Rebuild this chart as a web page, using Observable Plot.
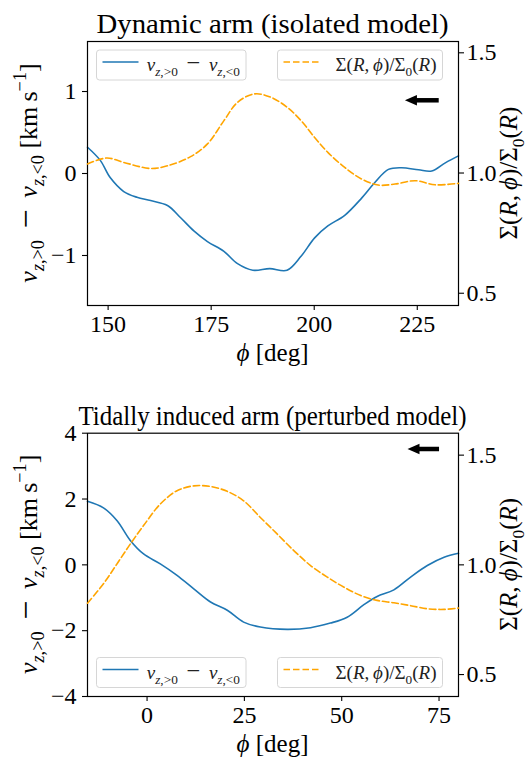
<!DOCTYPE html>
<html>
<head>
<meta charset="utf-8">
<script src="https://cdn.jsdelivr.net/npm/d3@7"></script>
<script src="https://cdn.jsdelivr.net/npm/@observablehq/plot@0.6"></script>
<style>
  html, body { margin: 0; padding: 0; background: #fff; }
  .panel { position: relative; width: 530px; height: 380px; }
  .panel svg { position: absolute; left: 0; top: 0; }
  .panel svg text { font-family: "Liberation Serif", "DejaVu Serif", serif; }
</style>
</head>
<body>
<div id="root"></div>
<script>
// ---------- data ----------
const titles = ["Dynamic arm (isolated model)", "Tidally induced arm (perturbed model)"];

// Top panel: v_{z,>0} - v_{z,<0}
const topPhiV = [145, 148.1, 150.5, 153.8, 157.0, 160.3, 164.4, 167.6, 170.8, 174.1, 178.1, 181.4, 185.1, 189.2, 193.4, 196.8, 200.1, 203.3, 207.4, 211.5, 214.7, 218.0, 221.2, 225.3, 228.5, 231.8, 235];
const topV    = [0.32, 0.16, -0.05, -0.22, -0.29, -0.33, -0.39, -0.54, -0.70, -0.83, -0.95, -1.10, -1.18, -1.16, -1.18, -1.01, -0.785, -0.64, -0.51, -0.30, -0.11, 0.05, 0.07, 0.045, 0.03, 0.13, 0.215];
// Top panel: Sigma / Sigma0
const topPhiS = [145, 149.7, 153.8, 160.3, 164.4, 170.0, 174.1, 178.1, 181.4, 185.5, 189.5, 193.6, 196.8, 200.1, 203.3, 207.4, 211.5, 215.5, 219.6, 224.5, 229.3, 235];
const topS    = [1.0375, 1.0625, 1.044, 1.019, 1.030, 1.068, 1.121, 1.218, 1.294, 1.329, 1.315, 1.271, 1.218, 1.148, 1.086, 1.023, 0.975, 0.950, 0.954, 0.968, 0.951, 0.957];

// Bottom panel
const botPhiV = [-15.3, -11.2, -7.7, -4.3, -0.9, 3.4, 7.7, 12.0, 16.3, 20.6, 24.8, 29.1, 36.0, 42.0, 47.1, 51.4, 55.7, 59.1, 63.4, 67.7, 72.0, 76.3, 80];
const botV    = [1.93, 1.73, 1.34, 0.74, 0.33, 0.03, -0.32, -0.73, -1.13, -1.38, -1.74, -1.89, -1.96, -1.91, -1.77, -1.59, -1.21, -0.96, -0.76, -0.37, -0.02, 0.23, 0.35];
const botPhiS = [-15.3, -11.2, -7.7, -4.3, -0.9, 3.4, 7.7, 12.0, 16.3, 20.6, 24.8, 29.1, 33.4, 37.7, 42.0, 46.3, 50.6, 54.9, 59.1, 63.4, 67.7, 72.0, 76.3, 80];
const botS    = [0.825, 0.914, 1.005, 1.095, 1.179, 1.277, 1.338, 1.36, 1.357, 1.335, 1.292, 1.216, 1.141, 1.065, 0.997, 0.944, 0.898, 0.86, 0.838, 0.827, 0.814, 0.80, 0.797, 0.803];

// axes
const topXDomain = [145, 235], topYDomain = [-1.61, 1.61], topSDomain = [0.449, 1.547];
const botXDomain = [-15.3, 80], botYDomain = [-4, 4], botSDomain = [0.4, 1.6];
const topXTicks = [150, 175, 200, 225], topYTicks = [-1, 0, 1];
const botXTicks = [0, 25, 50, 75], botYTicks = [-4, -2, 0, 2, 4];
const sigmaTicks = [0.5, 1.0, 1.5];

// direction arrows (tip, tail in phi; height in v)
const topArrowPhi = [222.0, 230.2], topArrowV = 0.893;
const botArrowPhi = [66.9, 75.0], botArrowV = 3.52;

// ---------- helpers ----------
const FONT = "Liberation Serif, DejaVu Serif, serif";
const BLUE = "#1f77b4", ORANGE = "#ffa500";
const W = 530, H = 380, ML = 87, MR = 72;

function rich(textSel, parts, size) {
  let cur = 0;
  for (const p of parts) {
    const target = p.s === "sub" ? size * 0.28 : p.s === "sup" ? -size * 0.42 : 0;
    const fs = p.s ? size * 0.7 : size * (p.k || 1);
    const ts = textSel.append("tspan")
      .attr("dy", target - cur)
      .attr("font-size", fs)
      .text(p.t);
    if (p.i) ts.attr("font-style", "italic");
    cur = target;
  }
  return textSel;
}

const vParts = [
  {t: "v", i: 1}, {t: "z", i: 1, s: "sub"}, {t: ",>0", s: "sub"}, {t: "\u2009 "}, {t: "−", k: 1.3}, {t: " \u2009"},
  {t: "v", i: 1}, {t: "z", i: 1, s: "sub"}, {t: ",<0", s: "sub"}
];
const vLabel = [...vParts, {t: " [km\u2009s"}, {t: "−1", s: "sup"}, {t: "]"}];
const sLabel = [
  {t: "Σ("}, {t: "R", i: 1}, {t: ",\u2009"}, {t: "ϕ", i: 1}, {t: ")/Σ"}, {t: "0", s: "sub"},
  {t: "("}, {t: "R", i: 1}, {t: ")"}
];
const xLabel = [{t: "ϕ", i: 1}, {t: " [deg]"}];

const arrowHead = {
  draw(ctx) {
    ctx.moveTo(0, 0);
    ctx.lineTo(12, -5.2);
    ctx.lineTo(12, 5.2);
    ctx.closePath();
  }
};

function makePanel(cfg) {
  const div = document.createElement("div");
  div.className = "panel";
  const common = {
    width: W, height: H,
    marginLeft: ML, marginRight: MR,
    marginTop: cfg.mT, marginBottom: H - cfg.mT - cfg.fh,
    style: {background: "transparent", fontFamily: FONT, fontSize: "24px", color: "black", overflow: "visible"}
  };
  const blue = cfg.phiV.map((p, i) => ({phi: p, v: cfg.v[i]}));
  const orange = cfg.phiS.map((p, i) => ({phi: p, s: cfg.s[i]}));
  const arrow = [{tip: cfg.arrowPhi[0], tail: cfg.arrowPhi[1], v: cfg.arrowV}];

  const p1 = Plot.plot({
    ...common,
    x: {domain: cfg.xd},
    y: {domain: cfg.yd},
    marks: [
      Plot.axisX({ticks: cfg.xt, tickFormat: d3.format("d"), tickSize: 5, tickPadding: 4, label: null, fontSize: 24, strokeWidth: 1.1}),
      Plot.axisY({ticks: cfg.yt, tickFormat: d3.format("d"), tickSize: 5, tickPadding: 6, label: null, fontSize: 24, strokeWidth: 1.1}),
      Plot.line(blue, {x: "phi", y: "v", stroke: BLUE, strokeWidth: 1.6, curve: "catmull-rom"}),
      Plot.link(arrow, {x1: d => d.tip + (d.tail - d.tip) * 0.3, x2: "tail", y1: "v", y2: "v", stroke: "black", strokeWidth: 4.5}),
      Plot.dot(arrow, {x: "tip", y: "v", symbol: arrowHead, fill: "black", stroke: null}),
      Plot.frame({stroke: "black", strokeWidth: 1.2})
    ]
  });

  const p2 = Plot.plot({
    ...common,
    x: {domain: cfg.xd, axis: null},
    y: {domain: cfg.sd},
    marks: [
      Plot.axisY({anchor: "right", ticks: sigmaTicks, tickFormat: d3.format(".1f"), tickSize: 5, tickPadding: 3, label: null, fontSize: 24, strokeWidth: 1.1}),
      Plot.line(orange, {x: "phi", y: "s", stroke: ORANGE, strokeWidth: 1.6, strokeDasharray: "6.5,3", curve: "catmull-rom"})
    ]
  });

  const s2 = d3.select(p2);
  // title
  s2.append("text").attr("x", (ML + W - MR) / 2).attr("y", cfg.titleY)
    .attr("text-anchor", "middle").attr("font-size", 27)
    .attr("textLength", cfg.titleLen).attr("lengthAdjust", "spacingAndGlyphs")
    .text(cfg.title);
  // x label
  rich(s2.append("text").attr("x", (ML + W - MR) / 2).attr("y", cfg.xLabelY)
    .attr("text-anchor", "middle"), xLabel, 25);
  const cy = cfg.mT + cfg.fh / 2;
  // left y label
  rich(s2.append("text").attr("transform", `translate(37,${cy}) rotate(-90)`)
    .attr("text-anchor", "middle"), vLabel, 26);
  // right y label
  rich(s2.append("text").attr("transform", `translate(517,${cy}) rotate(-90)`)
    .attr("text-anchor", "middle"), sLabel, 25);

  // legends
  const legends = [
    {x: 96.5, w: 149.5, color: BLUE, dash: null, parts: vParts},
    {x: 277.5, w: 165, color: ORANGE, dash: "6.5,3", parts: sLabel}
  ];
  for (const lg of legends) {
    const g = s2.append("g");
    g.append("rect").attr("x", lg.x).attr("y", cfg.legY).attr("width", lg.w).attr("height", 30)
      .attr("rx", 3).attr("fill", "white").attr("fill-opacity", 0.8)
      .attr("stroke", "#d6d6d6").attr("stroke-width", 1);
    g.append("line").attr("x1", lg.x + 6).attr("x2", lg.x + 42)
      .attr("y1", cfg.legY + 12).attr("y2", cfg.legY + 12)
      .attr("stroke", lg.color).attr("stroke-width", 1.6)
      .attr("stroke-dasharray", lg.dash);
    rich(g.append("text").attr("x", lg.x + lg.w - 6).attr("y", cfg.legY + 21)
      .attr("text-anchor", "end").attr("fill", "#222"), lg.parts, 19);
  }

  div.appendChild(p1);
  div.appendChild(p2);
  return div;
}

const root = document.getElementById("root");
root.appendChild(makePanel({
  title: titles[0], titleY: 33, titleLen: 352, xLabelY: 361,
  mT: 41, fh: 264, legY: 50,
  phiV: topPhiV, v: topV, phiS: topPhiS, s: topS,
  xd: topXDomain, yd: topYDomain, sd: topSDomain,
  xt: topXTicks, yt: topYTicks,
  arrowPhi: topArrowPhi, arrowV: topArrowV
}));
root.appendChild(makePanel({
  title: titles[1], titleY: 45, titleLen: 388, xLabelY: 372,
  mT: 52.7, fh: 263.3, legY: 277.5,
  phiV: botPhiV, v: botV, phiS: botPhiS, s: botS,
  xd: botXDomain, yd: botYDomain, sd: botSDomain,
  xt: botXTicks, yt: botYTicks,
  arrowPhi: botArrowPhi, arrowV: botArrowV
}));
</script>
</body>
</html>
